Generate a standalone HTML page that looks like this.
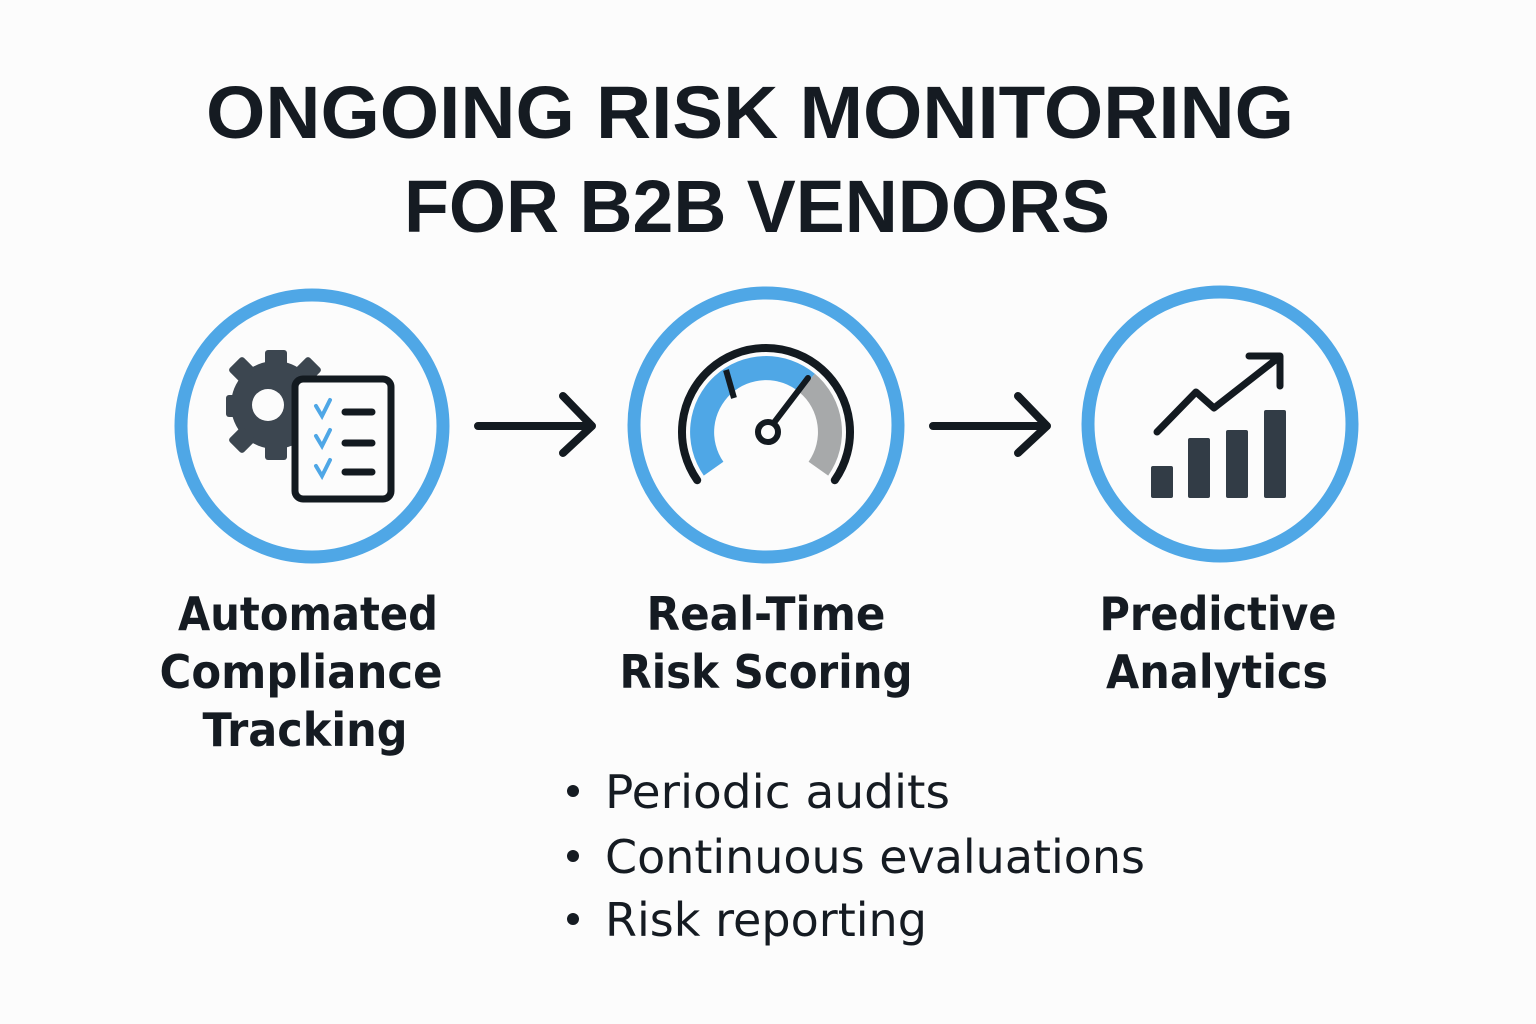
<!DOCTYPE html>
<html><head><meta charset="utf-8"><style>
html,body{margin:0;padding:0;background:#fcfcfc;}
svg{display:block}
</style></head><body>
<svg width="1536" height="1024" viewBox="0 0 1536 1024" xmlns="http://www.w3.org/2000/svg">
<rect width="1536" height="1024" fill="#fcfcfc"/>
<g font-family="Liberation Sans, sans-serif" font-weight="bold" fill="#151b22" text-anchor="middle">
<text x="750" y="138" font-size="74" textLength="1088" lengthAdjust="spacingAndGlyphs">ONGOING RISK MONITORING</text>
<text x="757" y="232" font-size="74" textLength="706" lengthAdjust="spacingAndGlyphs">FOR B2B VENDORS</text>
</g>
<g fill="none" stroke="#4fa7e6" stroke-width="13">
<circle cx="312" cy="426" r="131"/>
<circle cx="766" cy="425" r="132"/>
<circle cx="1220" cy="424" r="132"/>
</g>
<g fill="none" stroke="#131a20" stroke-width="8" stroke-linecap="round" stroke-linejoin="round">
<path d="M478 426 H592 M563 396 L592 426 L563 453"/>
<path d="M933 426 H1047 M1018 396 L1047 426 L1018 453"/>
</g>
<!-- icon 1 -->
<g>
<circle cx="275" cy="405" r="44" fill="#3c4650"/>
<g fill="#3c4650">
<rect x="265" y="350" width="22" height="20" rx="3"/>
<rect x="265" y="440" width="22" height="20" rx="3"/>
<rect x="226" y="395" width="20" height="22" rx="3"/>
<rect x="232" y="360" width="20" height="20" rx="3" transform="rotate(45 242 370)"/>
<rect x="232" y="430" width="20" height="20" rx="3" transform="rotate(45 242 440)"/>
<rect x="298" y="360" width="20" height="20" rx="3" transform="rotate(45 308 370)"/>
</g>
<circle cx="268" cy="405" r="16" fill="#fcfcfc"/>
<rect x="295" y="379" width="96" height="120" rx="8" fill="#fcfcfc" stroke="#131a20" stroke-width="7"/>
<g fill="none" stroke="#4fa7e6" stroke-width="4" stroke-linecap="round">
<path d="M316 406 l6 10 l8 -16"/><path d="M316 436 l6 10 l8 -16"/><path d="M316 466 l6 10 l8 -16"/>
</g>
<g stroke="#131a20" stroke-width="7" stroke-linecap="round">
<path d="M345 412 H372"/><path d="M345 443 H372"/><path d="M345 472 H372"/>
</g>
</g>
<!-- icon 2: gauge -->
<g>
<path d="M703.8 475.6 A76 76 0 0 1 814.9 373.8 L799.4 392.2 A52 52 0 0 0 723.4 461.8 Z" fill="#4fa7e6"/>
<path d="M814.9 373.8 A76 76 0 0 1 828.2 475.6 L808.6 461.8 A52 52 0 0 0 799.4 392.2 Z" fill="#a7a9aa"/>
<path d="M697.2 480.2 A84 84 0 1 1 834.8 480.2" fill="none" stroke="#131a20" stroke-width="8" stroke-linecap="round"/>
<path d="M726 370 l8 28" stroke="#131a20" stroke-width="6"/>
<path d="M773 424 L808 378" stroke="#131a20" stroke-width="6" stroke-linecap="round"/>
<circle cx="768" cy="432" r="10" fill="#fcfcfc" stroke="#131a20" stroke-width="6"/>
</g>
<!-- icon 3 -->
<g fill="#323c46">
<rect x="1151" y="466" width="22" height="32" rx="2"/>
<rect x="1188" y="438" width="22" height="60" rx="2"/>
<rect x="1226" y="430" width="22" height="68" rx="2"/>
<rect x="1264" y="410" width="22" height="88" rx="2"/>
</g>
<path d="M1157 432 L1196 392 L1214 408 L1278 358 M1249 356 H1280 V386" fill="none" stroke="#131a20" stroke-width="7" stroke-linecap="round" stroke-linejoin="round"/>
<g font-family="DejaVu Sans, sans-serif" font-weight="bold" fill="#151b22" text-anchor="middle" font-size="46">
<text x="308" y="630" textLength="260" lengthAdjust="spacingAndGlyphs">Automated</text>
<text x="301" y="688" textLength="283" lengthAdjust="spacingAndGlyphs">Compliance</text>
<text x="305" y="746" textLength="205" lengthAdjust="spacingAndGlyphs">Tracking</text>
<text x="766" y="630" textLength="239" lengthAdjust="spacingAndGlyphs">Real-Time</text>
<text x="766" y="688" textLength="293" lengthAdjust="spacingAndGlyphs">Risk Scoring</text>
<text x="1218" y="630" textLength="237" lengthAdjust="spacingAndGlyphs">Predictive</text>
<text x="1217" y="688" textLength="222" lengthAdjust="spacingAndGlyphs">Analytics</text>
</g>
<g font-family="DejaVu Sans, sans-serif" fill="#151b22" font-size="46">
<circle cx="573" cy="791" r="6"/><circle cx="573" cy="856" r="6"/><circle cx="573" cy="919" r="6"/>
<text x="605" y="808" textLength="345" lengthAdjust="spacingAndGlyphs">Periodic audits</text>
<text x="605" y="873" textLength="540" lengthAdjust="spacingAndGlyphs">Continuous evaluations</text>
<text x="605" y="936" textLength="322" lengthAdjust="spacingAndGlyphs">Risk reporting</text>
</g>
</svg>
</body></html>
